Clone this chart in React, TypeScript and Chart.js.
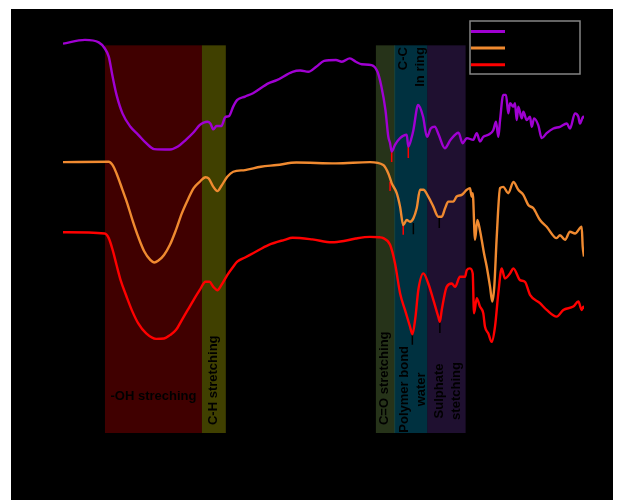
import React, { useEffect, useRef } from "react";
import { Chart, registerables } from "chart.js";

Chart.register(...registerables);

const seriesLabels = ["Sample 1", "Sample 2", "Sample 3"];
const seriesColors = ["#a000d2", "#f08a30", "#ff0000"];

const s1Wavenumber = [4000, 3848, 3753, 3712, 3684, 3657, 3630, 3589, 3534, 3480, 3425, 3370, 3261, 3206, 3151, 3097, 3056, 3028, 3002, 2982, 2961, 2939, 2906, 2879, 2852, 2824, 2796, 2742, 2687, 2578, 2523, 2414, 2360, 2305, 2250, 2196, 2114, 2073, 2018, 1977, 1936, 1868, 1827, 1800, 1772, 1752, 1740, 1729, 1706, 1671, 1625, 1614, 1590, 1579, 1546, 1512, 1485, 1459, 1431, 1404, 1362, 1322, 1267, 1239, 1210, 1165, 1141, 1119, 1096, 1061, 1027, 1008, 992, 980, 958, 939, 923, 911, 888, 877, 865, 854, 830, 819, 796, 773, 761, 745, 716, 692, 658, 612, 566, 519, 497, 462, 439, 428, 405, 400];
const s1Transmittance = [92.7, 93.6, 93.0, 91.6, 89.6, 84.8, 80.5, 76.1, 72.9, 71.0, 69.0, 67.6, 67.5, 68.2, 69.8, 71.6, 73.3, 73.9, 74.1, 73.7, 72.3, 73.1, 73.1, 75.2, 75.5, 77.7, 79.3, 80.1, 80.9, 83.3, 84.0, 86.0, 86.3, 86.0, 87.2, 88.6, 88.8, 88.4, 89.2, 88.4, 87.8, 87.6, 86.0, 82.5, 76.9, 70.5, 69.0, 67.0, 68.6, 70.2, 71.0, 68.2, 70.5, 72.1, 78.1, 75.3, 70.5, 72.5, 72.9, 71.0, 67.8, 69.8, 71.5, 69.0, 70.2, 69.8, 71.4, 69.4, 70.5, 71.0, 72.1, 74.1, 70.5, 74.5, 80.5, 80.5, 76.1, 78.5, 77.7, 78.5, 74.5, 77.7, 74.9, 76.5, 74.5, 75.3, 72.9, 74.9, 73.3, 70.2, 71.4, 72.5, 72.9, 73.7, 72.5, 76.1, 75.3, 73.7, 75.3, 74.9];

const s2Wavenumber = [4000, 3684, 3657, 3630, 3589, 3556, 3520, 3480, 3438, 3397, 3370, 3343, 3302, 3261, 3220, 3179, 3138, 3097, 3056, 3015, 2993, 2961, 2933, 2906, 2865, 2824, 2742, 2633, 2523, 2387, 2114, 1879, 1787, 1752, 1729, 1694, 1671, 1649, 1625, 1602, 1579, 1556, 1533, 1510, 1476, 1441, 1407, 1383, 1360, 1338, 1303, 1280, 1245, 1210, 1188, 1176, 1169, 1153, 1137, 1119, 1107, 1091, 1072, 1049, 1034, 1020, 1003, 980, 958, 923, 888, 854, 819, 785, 750, 704, 658, 589, 566, 531, 497, 462, 416, 409, 400];
const s2Transmittance = [64.5, 64.6, 63.8, 61.8, 57.9, 54.7, 50.7, 46.7, 43.2, 41.2, 40.6, 41.0, 42.4, 44.8, 48.3, 52.3, 55.5, 58.3, 59.8, 60.9, 60.6, 58.6, 57.6, 58.8, 61.0, 62.2, 62.6, 63.4, 63.8, 64.4, 64.2, 64.5, 63.8, 61.8, 59.5, 57.1, 53.9, 49.5, 50.7, 50.3, 51.1, 53.5, 57.9, 57.9, 56.3, 53.9, 51.5, 51.5, 53.5, 55.1, 55.1, 56.3, 56.7, 57.9, 58.3, 56.3, 57.1, 46.0, 50.7, 48.3, 46.0, 42.8, 39.6, 34.8, 31.3, 34.8, 46.7, 58.3, 58.6, 57.1, 59.8, 57.9, 56.7, 54.3, 53.5, 50.7, 49.1, 46.4, 47.1, 46.0, 47.9, 47.5, 49.1, 44.4, 42.0];

const s3Wavenumber = [4000, 3712, 3684, 3657, 3630, 3602, 3561, 3520, 3480, 3425, 3357, 3302, 3261, 3220, 3179, 3138, 3097, 3056, 3015, 2988, 2961, 2933, 2906, 2865, 2824, 2796, 2742, 2687, 2578, 2469, 2414, 2277, 2141, 2059, 1977, 1879, 1814, 1787, 1740, 1706, 1671, 1637, 1602, 1586, 1565, 1545, 1510, 1476, 1441, 1407, 1396, 1383, 1349, 1314, 1291, 1257, 1222, 1210, 1188, 1169, 1160, 1141, 1119, 1096, 1084, 1061, 1038, 1015, 992, 969, 946, 911, 888, 842, 808, 773, 704, 658, 589, 543, 474, 439, 416, 405, 400];
const s3Transmittance = [47.8, 47.5, 46.4, 43.6, 40.0, 36.4, 32.5, 28.9, 26.1, 23.7, 22.4, 22.5, 23.3, 24.5, 26.9, 29.3, 31.7, 34.0, 36.0, 36.0, 34.8, 34.0, 35.2, 37.6, 39.6, 40.8, 41.8, 42.8, 44.8, 46.0, 46.5, 46.1, 45.4, 45.7, 46.3, 46.7, 46.6, 46.4, 44.8, 40.4, 33.3, 29.3, 25.3, 23.5, 27.5, 34.0, 38.0, 35.6, 31.7, 27.7, 26.5, 29.3, 34.8, 35.6, 34.8, 37.2, 37.2, 38.8, 39.2, 38.0, 28.5, 32.1, 30.1, 28.5, 25.3, 23.7, 21.7, 25.3, 33.3, 39.2, 36.8, 38.0, 39.2, 36.4, 36.0, 32.9, 30.9, 29.3, 27.7, 29.3, 30.1, 31.3, 29.3, 30.1, 29.5];

const markerWavenumber = [1729, 1614, 1740, 1649, 1579, 1400, 1586, 1396];
const markerTop = [67.0, 68.2, 59.8, 49.5, 50.0, 51.2, 23.8, 26.7];
const markerBottom = [64.5, 65.5, 57.6, 47.2, 47.3, 48.8, 21.0, 23.8];
const markerColors = ["#ff0000", "#ff0000", "#ff0000", "#ff0000", "#000000", "#000000", "#000000", "#000000"];

const bandStart = [3710, 3040, 1838, 1710, 1483];
const bandEnd = [3040, 2875, 1705, 1483, 1218];
const bandColors = ["rgba(128,0,0,0.5)", "rgba(128,128,0,0.5)", "rgba(76,102,50,0.5)", "rgba(0,98,128,0.5)", "rgba(62,32,96,0.5)"];
const bandBottom = 0;
const bandTop = 92.3;

const labelTexts = ["-OH streching", "C-H stretching", "C=O stretching", "Polymer bond", "water", "Sulphate", "stetching", "C-C", "In ring"];
const labelWavenumber = [3375, 2963, 1776, 1644, 1526, 1402, 1281, 1651, 1533];
const labelValue = [8.6, 1.9, 1.9, 10.4, 10.4, 10.0, 10.0, 91.9, 91.9];
const labelRotated = [false, true, true, true, true, true, true, true, true];
const labelAlign = ["center", "left", "left", "center", "center", "center", "center", "right", "right"];

const xTicks = [4000, 3500, 3000, 2500, 2000, 1500, 1000, 500];

const bandsPlugin = {
  id: "bands",
  beforeDatasetsDraw(chart: any) {
    const { ctx, scales } = chart;
    const x = scales.x;
    const y = scales.y;
    ctx.save();
    for (let i = 0; i < bandStart.length; i++) {
      const x1 = x.getPixelForValue(bandStart[i]);
      const x2 = x.getPixelForValue(bandEnd[i]);
      const y1 = y.getPixelForValue(bandTop);
      const y2 = y.getPixelForValue(bandBottom);
      ctx.fillStyle = bandColors[i];
      ctx.fillRect(Math.min(x1, x2), y1, Math.abs(x2 - x1), y2 - y1);
    }
    ctx.fillStyle = "#000";
    ctx.font = "bold 13px 'Liberation Sans', Arial, sans-serif";
    ctx.textBaseline = "middle";
    for (let i = 0; i < labelTexts.length; i++) {
      const px = x.getPixelForValue(labelWavenumber[i]);
      const py = y.getPixelForValue(labelValue[i]);
      ctx.save();
      ctx.translate(px, py);
      if (labelRotated[i]) ctx.rotate(-Math.PI / 2);
      ctx.textAlign = labelAlign[i] as CanvasTextAlign;
      ctx.fillText(labelTexts[i], 0, 0);
      ctx.restore();
    }
    ctx.restore();
  },
};

const legendPlugin = {
  id: "boxLegend",
  afterDraw(chart: any) {
    const { ctx, chartArea } = chart;
    const w = 110;
    const h = 53;
    const left = chartArea.right - 4 - w;
    const top = chartArea.top + 8;
    ctx.save();
    ctx.strokeStyle = "#858585";
    ctx.lineWidth = 1.5;
    ctx.strokeRect(left, top, w, h);
    for (let i = 0; i < seriesLabels.length; i++) {
      const ly = top + 10.5 + i * 16.6;
      ctx.strokeStyle = seriesColors[i];
      ctx.lineWidth = 3;
      ctx.beginPath();
      ctx.moveTo(left + 1, ly);
      ctx.lineTo(left + 35, ly);
      ctx.stroke();
      ctx.fillStyle = "#000";
      ctx.font = "12px 'Liberation Sans', Arial, sans-serif";
      ctx.textBaseline = "middle";
      ctx.textAlign = "left";
      ctx.fillText(seriesLabels[i], left + 41, ly);
    }
    ctx.restore();
  },
};

export default function App() {
  const canvasRef = useRef<HTMLCanvasElement | null>(null);

  useEffect(() => {
    if (!canvasRef.current) return;
    const toPoints = (xs: number[], ys: number[]) => xs.map((v, i) => ({ x: v, y: ys[i] }));
    const seriesX = [s1Wavenumber, s2Wavenumber, s3Wavenumber];
    const seriesY = [s1Transmittance, s2Transmittance, s3Transmittance];
    const datasets: any[] = seriesLabels.map((label, i) => ({
      label,
      data: toPoints(seriesX[i], seriesY[i]),
      borderColor: seriesColors[i],
      backgroundColor: seriesColors[i],
      borderWidth: 2.4,
      pointRadius: 0,
      cubicInterpolationMode: "monotone",
      fill: false,
    }));
    markerWavenumber.forEach((w, i) => {
      datasets.push({
        label: "peak " + (i + 1),
        data: [
          { x: w, y: markerTop[i] },
          { x: w, y: markerBottom[i] },
        ],
        borderColor: markerColors[i],
        borderWidth: 1.5,
        pointRadius: 0,
        fill: false,
      });
    });

    const chart = new Chart(canvasRef.current, {
      type: "line",
      data: { datasets },
      options: {
        responsive: false,
        animation: false,
        layout: { padding: { top: 4, right: 29, left: 0, bottom: 0 } },
        plugins: {
          legend: { display: false },
          tooltip: { enabled: false },
        },
        scales: {
          x: {
            type: "linear",
            min: 400,
            max: 4000,
            reverse: true,
            grid: { display: false },
            border: { color: "#000", width: 1.5 },
            ticks: { color: "#000", font: { size: 13, family: "'Liberation Sans', Arial, sans-serif" } },
            afterBuildTicks: (s: any) => {
              s.ticks = xTicks.map((v) => ({ value: v }));
            },
            title: {
              display: true,
              text: "Wavenumber (cm⁻¹)",
              color: "#000",
              font: { size: 15, weight: "bold", family: "'Liberation Sans', Arial, sans-serif" },
            },
            afterFit: (s: any) => {
              s.height = 67;
            },
          },
          y: {
            type: "linear",
            min: 0,
            max: 100,
            grid: { display: false },
            border: { color: "#000", width: 1.5 },
            ticks: { display: false },
            title: {
              display: true,
              text: "Transmittance (%)",
              color: "#000",
              font: { size: 15, weight: "bold", family: "'Liberation Sans', Arial, sans-serif" },
            },
            afterFit: (s: any) => {
              s.width = 52;
            },
          },
        },
      } as any,
      plugins: [bandsPlugin, legendPlugin],
    });
    return () => chart.destroy();
  }, []);

  return (
    <div style={{ position: "absolute", left: 11, top: 9 }}>
      <canvas ref={canvasRef} width={602} height={491} style={{ display: "block", background: "#000" }} />
    </div>
  );
}
